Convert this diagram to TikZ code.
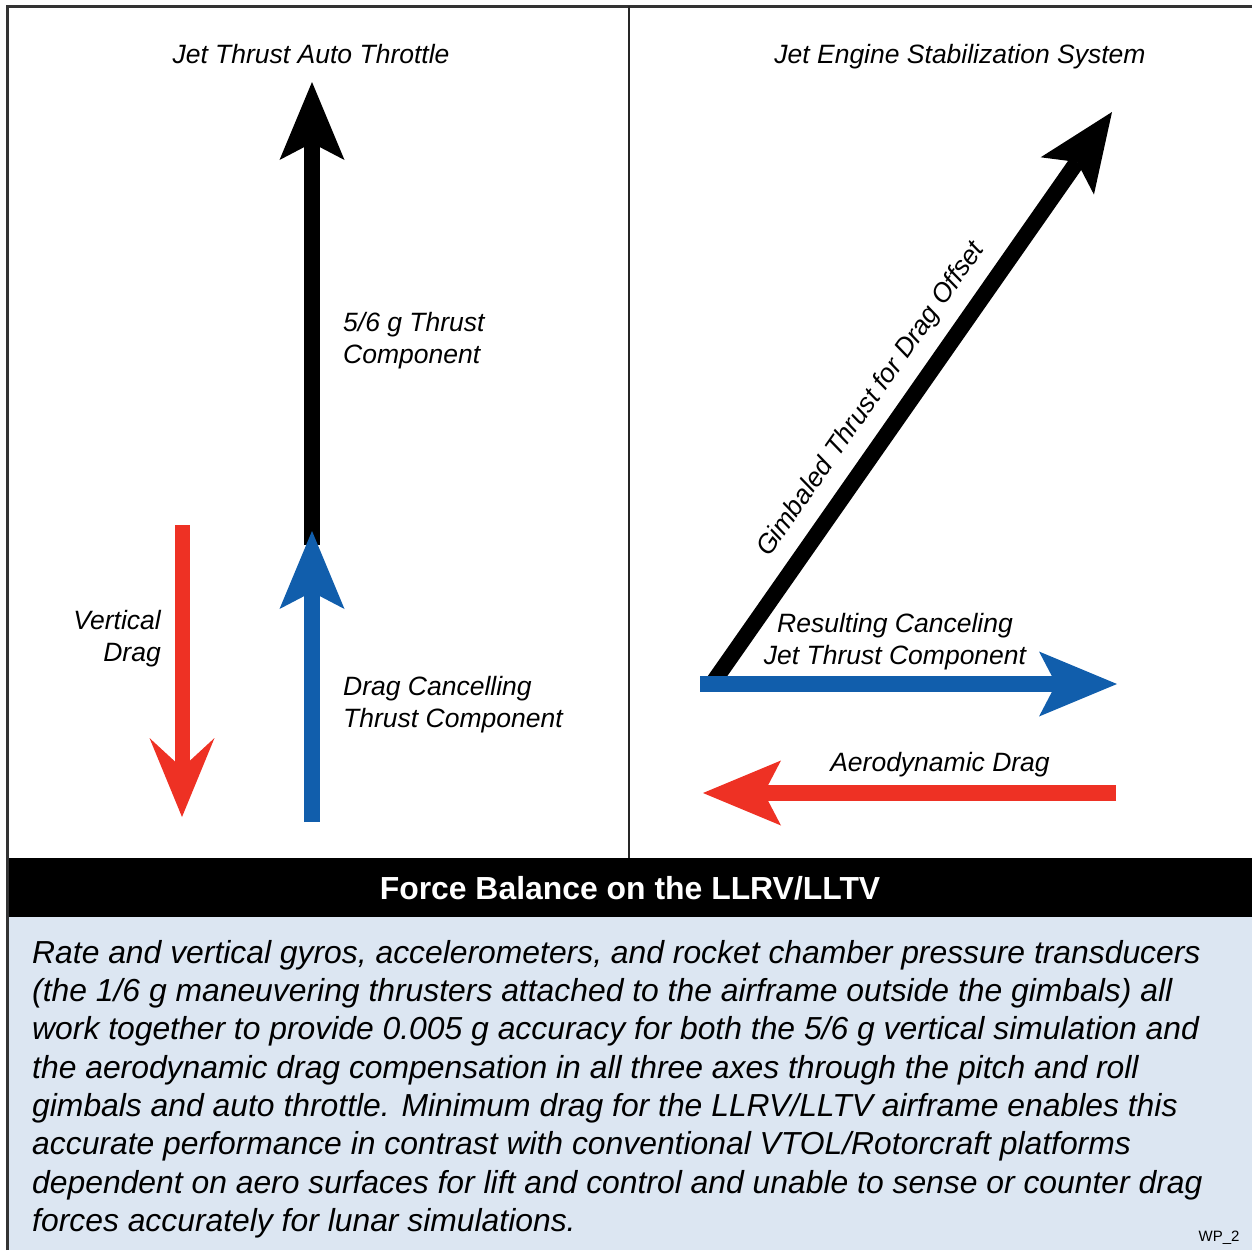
\documentclass[tikz,border=0pt]{standalone}
\usepackage{fontspec}
\setmainfont{Liberation Sans}
\usetikzlibrary{arrows.meta}
\definecolor{dragred}{RGB}{238,49,36}
\definecolor{thrustblue}{RGB}{17,94,172}
\definecolor{panelblue}{RGB}{220,230,242}
\def\vecw{16pt}
\tikzset{
  vec/.style={line width=\vecw,-{Stealth[length=78pt,width=65pt,inset=17pt,line width=0pt]}},
  lbl/.style={font=\fontsize{26.5}{32}\selectfont\itshape,inner sep=0pt},
}

\begin{document}
\begin{tikzpicture}[x=1pt,y=-1pt]
  \useasboundingbox (0,0) rectangle (1252,1250);
  % panels and frame
  \fill[panelblue] (7,917) rectangle (1252,1250);
  \fill[black] (7,858) rectangle (1252,917);
  \draw[black!80,line width=3pt] (7,1250) -- (7,6) -- (1252,6);
  \draw[black!85,line width=2.5pt] (629,6) -- (629,858);
  \node[font=\fontsize{31.9}{36}\selectfont\bfseries,text=white] (band) at (630,888) {Force Balance on the LLRV/LLTV};

  % left panel: auto throttle
  \node[lbl,anchor=base] (ttl) at (311,63.7) {Jet Thrust Auto Throttle};
  \coordinate (gbase) at (312,545);
  \coordinate (gtip) at (312,82);
  \coordinate (cbase) at (312,822);
  \coordinate (ctip) at (312,531);
  \coordinate (dtop) at (182,525);
  \coordinate (dtip) at (182,817);
  \draw[vec,black] (gbase) -- (gtip);
  \draw[vec,thrustblue] (cbase) -- (ctip);
  \draw[line width=15pt,dragred,-{Stealth[length=79pt,width=65pt,inset=30pt,line width=0pt]}] (dtop) -- (dtip);
  \node[lbl,anchor=west,align=left] (glbl) at (343,341) {5/6 g Thrust\\Component};
  \node[lbl,anchor=east,align=right] (dlbl) at (161,639) {Vertical\\Drag};
  \node[lbl,anchor=west,align=left] (clbl) at (343,705) {Drag Cancelling\\Thrust Component};

  % right panel: stabilization system
  \node[lbl,anchor=base] (ttr) at (960,63.7) {Jet Engine Stabilization System};
  \coordinate (o) at (712,684);
  \coordinate (jtip) at (1112,112);
  \coordinate (htip) at (1117,684);
  \coordinate (aend) at (1116,793);
  \coordinate (atip) at (703,793);
  \draw[vec,black] (o) -- node[lbl,sloped,above=12pt,pos=0.465] (jlbl) {Gimbaled Thrust for Drag Offset} (jtip);
  \draw[vec,thrustblue] (700,684) -- (htip);
  \draw[vec,dragred] (aend) -- (atip);
  \node[lbl,align=center] (hlbl) at (895,642) {Resulting Canceling\\Jet Thrust Component};
  \node[lbl] (albl) at (940,765) {Aerodynamic Drag};

  % caption
  \node[font=\fontsize{31.85}{38.3}\selectfont\itshape,anchor=north west,align=left,inner sep=0pt] (txt) at (32,940)
    {Rate and vertical gyros, accelerometers, and rocket chamber pressure transducers\\
     (the 1/6 g maneuvering thrusters attached to the airframe outside the gimbals) all\\
     work together to provide 0.005 g accuracy for both the 5/6 g vertical simulation and\\
     the aerodynamic drag compensation in all three axes through the pitch and roll\\
     gimbals and auto throttle. Minimum drag for the LLRV/LLTV airframe enables this\\
     accurate performance in contrast with conventional VTOL/Rotorcraft platforms\\
     dependent on aero surfaces for lift and control and unable to sense or counter drag\\
     forces accurately for lunar simulations.};
  \node[font=\fontsize{15}{18}\selectfont,inner sep=0pt] (wp) at (1219,1238) {WP\_2};
\end{tikzpicture}
\end{document}
